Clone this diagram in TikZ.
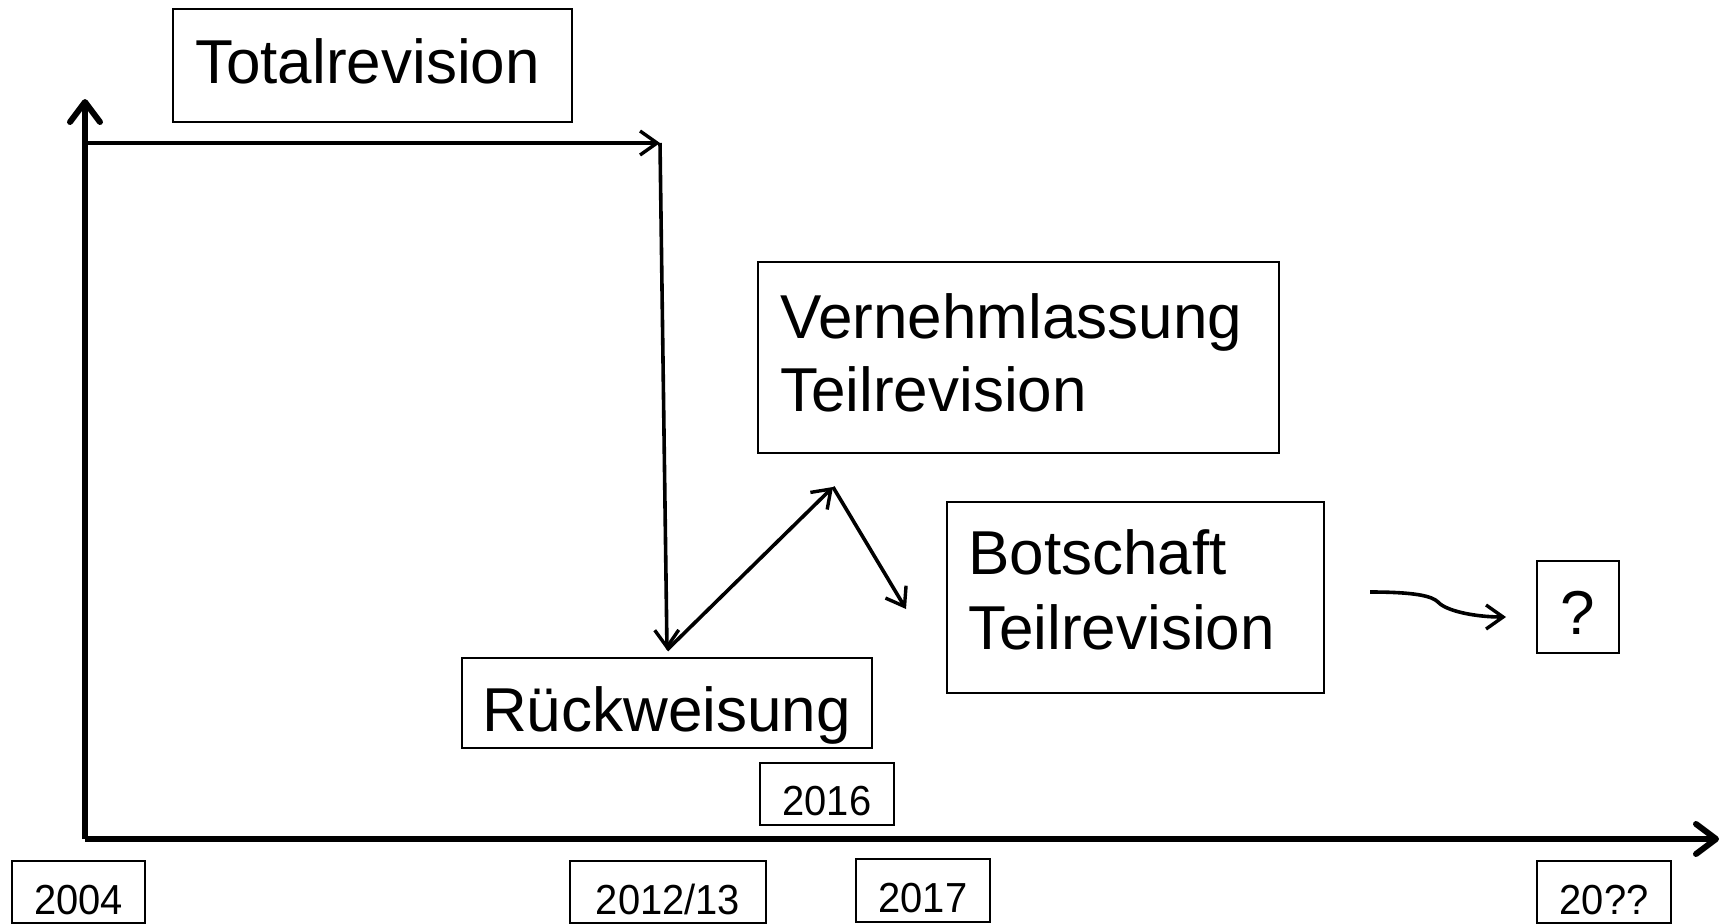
\documentclass[tikz,border=0pt]{standalone}
\usepackage{fontspec}
\setmainfont{Liberation Sans}
\newfontfamily\yrfont[FakeStretch=0.95]{Liberation Sans}
\usetikzlibrary{arrows.meta}
\begin{document}
\begin{tikzpicture}[x=1pt,y=-1pt,
  box/.style={draw,line width=1.8pt,inner sep=0pt,minimum width=#1},
  bigtxt/.style={anchor=base west,inner sep=0pt,font=\fontsize{62}{74}\selectfont},
  yrtxt/.style={anchor=base,inner sep=0pt,font=\yrfont\fontsize{42}{48}\selectfont},
  thinarrow/.style={line width=3.6pt,-{Straight Barb[length=17pt,width=24pt,line width=3.4pt]}},
  axisarrow/.style={line width=6pt,-{Straight Barb[length=20pt,width=30pt,line width=6pt,round]}}]
\useasboundingbox (0,0) rectangle (1725,924);
% boxes
\node[box=399pt,minimum height=113pt] (totbox) at (372.5,65.5) {};
\node[box=521pt,minimum height=191pt] (vernbox) at (1018.5,357.5) {};
\node[box=377pt,minimum height=191pt] (botbox) at (1135.5,597.5) {};
\node[box=410pt,minimum height=90pt] (rueckbox) at (667,703) {};
\node[box=82pt,minimum height=92pt] (qbox) at (1578,607) {};
\node[box=134pt,minimum height=62pt] (b2016) at (827,794) {};
\node[box=133pt,minimum height=62pt] (b2004) at (78.5,892) {};
\node[box=196pt,minimum height=62pt] (b2012) at (668,892) {};
\node[box=134pt,minimum height=63pt] (b2017) at (923,890.5) {};
\node[box=134pt,minimum height=62pt] (b20qq) at (1604,892) {};
% texts
\node[bigtxt] (ttot) at (195,83) {Totalrevision};
\node[bigtxt] (tvern) at (780,338) {Vernehmlassung};
\node[bigtxt] (tvern2) at (780,411) {Teilrevision};
\node[bigtxt] (tbot) at (968,574) {Botschaft};
\node[bigtxt] (tbot2) at (968,649) {Teilrevision};
\node[bigtxt] (trueck) at (482,731) {Rückweisung};
\node[anchor=base,inner sep=0pt,font=\fontsize{62}{74}\selectfont] (tq) at (1578,634) {?};
\node[yrtxt] (y2016) at (827,815) {2016};
\node[yrtxt] (y2004) at (78.5,914) {2004};
\node[yrtxt] (y2012) at (668,914) {2012/13};
\node[yrtxt] (y2017) at (923,912) {2017};
\node[yrtxt] (y20qq) at (1604,914) {20??};
% axes
\coordinate (origin) at (85,839);
\coordinate (ytop) at (85,99);
\coordinate (xend) at (1719,839);
\draw[axisarrow] (origin) -- (ytop);
\draw[axisarrow] (origin) -- (xend);
% path arrows
\coordinate (hstart) at (88,143);
\coordinate (corner) at (660,143);
\coordinate (low) at (667,650);
\coordinate (peak) at (833,487);
\coordinate (dip) at (906,609);
\coordinate (cstart) at (1370,592);
\coordinate (cend) at (1506,617);
\draw[thinarrow] (hstart) -- (corner);
\draw[thinarrow] (corner) -- (low);
\draw[thinarrow] (low) -- (peak);
\draw[thinarrow] (peak) -- (dip);
\draw[thinarrow] (cstart) .. controls (1415,592) and (1432,596) .. (1438,602)
  .. controls (1446,611) and (1475,617) .. (cend);
\end{tikzpicture}
\end{document}
